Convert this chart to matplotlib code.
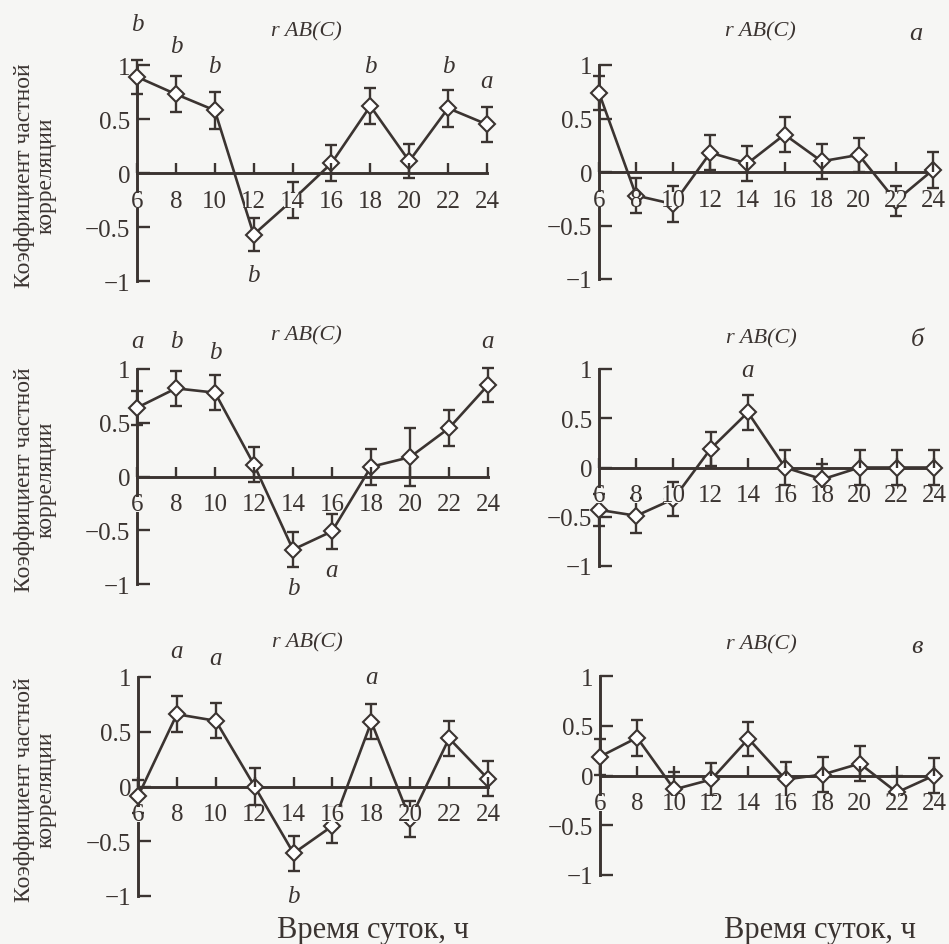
import numpy as np
import matplotlib
matplotlib.use('Agg')
import matplotlib.pyplot as plt

plt.rcParams['font.family'] = ['Liberation Serif', 'DejaVu Serif']

# Время суток, ч
hours = [6, 8, 10, 12, 14, 16, 18, 20, 22, 24]

# Коэффициенты частной корреляции r AB(C) и ошибки
r1 = [0.89, 0.73, 0.58, -0.57, -0.25, 0.09, 0.62, 0.11, 0.60, 0.45]
e1 = [0.16, 0.165, 0.17, 0.15, 0.165, 0.165, 0.17, 0.16, 0.17, 0.165]

r2 = [0.74, -0.22, -0.30, 0.18, 0.08, 0.35, 0.10, 0.16, -0.27, 0.02]
e2 = [0.16, 0.16, 0.17, 0.165, 0.165, 0.165, 0.165, 0.16, 0.14, 0.165]

r3 = [0.64, 0.82, 0.78, 0.11, -0.68, -0.51, 0.09, 0.18, 0.45, 0.85]
e3 = [0.16, 0.16, 0.16, 0.16, 0.165, 0.16, 0.165, 0.27, 0.165, 0.16]

r4 = [-0.43, -0.49, -0.32, 0.19, 0.56, 0.0, -0.12, 0.0, 0.0, 0.0]
e4 = [0.16, 0.18, 0.17, 0.175, 0.175, 0.18, 0.16, 0.18, 0.18, 0.18]

r5 = [-0.09, 0.66, 0.60, 0.0, -0.61, -0.36, 0.59, -0.30, 0.44, 0.07]
e5 = [0.15, 0.165, 0.16, 0.165, 0.16, 0.16, 0.16, 0.165, 0.16, 0.16]

r6 = [0.19, 0.38, -0.14, -0.04, 0.37, -0.04, 0.01, 0.12, -0.17, 0.0]
e6 = [0.18, 0.18, 0.18, 0.17, 0.17, 0.175, 0.175, 0.175, 0.17, 0.18]

# буквенные обозначения групп (час, буква)
sig1 = [(6, 'b'), (8, 'b'), (10, 'b'), (12, 'b'), (18, 'b'), (22, 'b'), (24, 'a')]
sig2 = []
sig3 = [(6, 'a'), (8, 'b'), (10, 'b'), (14, 'b'), (16, 'a'), (24, 'a')]
sig4 = [(14, 'a')]
sig5 = [(8, 'a'), (10, 'a'), (18, 'a'), (14, 'b')]
sig6 = []
# высота букв на графике
sig1_y = [1.38, 1.18, 0.99, -0.94, 0.99, 0.99, 0.85]
sig2_y = []
sig3_y = [1.26, 1.26, 1.16, -1.04, -0.87, 1.26]
sig4_y = [0.99]
sig5_y = [1.24, 1.17, 1.0, -1.0]
sig6_y = []

panel_letters = ['', 'а', '', 'б', '', 'в']

yticks = [-1, -0.5, 0, 0.5, 1]
ytick_labels = ['\u22121', '\u22120.5', '0', '0.5', '1']

ink = '#3b3431'
bg = '#f6f6f4'

W, H = 949, 945
fig = plt.figure(figsize=(W / 100, H / 100), dpi=100, facecolor=bg)

# положение осей в пикселях: x(6), x(24), y(1), y(-1)
boxes = [(137, 487, 66, 282), (599, 933, 66, 280),
         (137, 488, 370, 585), (599, 934, 370, 567),
         (138, 488, 678, 897), (600, 934, 677, 876)]

series = [(r1, e1, sig1, sig1_y), (r2, e2, sig2, sig2_y),
          (r3, e3, sig3, sig3_y), (r4, e4, sig4, sig4_y),
          (r5, e5, sig5, sig5_y), (r6, e6, sig6, sig6_y)]

for i, ((x0, x1, y1, ym1), (r, e, sig, sig_y)) in enumerate(zip(boxes, series)):
    ax = fig.add_axes([x0 / W, 1 - ym1 / H, (x1 - x0) / W, (ym1 - y1) / H])
    ax.set_facecolor('none')
    ax.set_axisbelow(False)
    ax.set_xlim(6, 24)
    ax.set_ylim(-1, 1)

    ax.errorbar(hours, r, yerr=e, fmt='none', ecolor=ink, elinewidth=1.7,
                capsize=4.5, capthick=1.7, zorder=2, clip_on=False)
    ax.plot(hours, r, color=ink, lw=1.9, marker='D', ms=8.5, mfc='white',
            mec=ink, mew=1.5, zorder=2.2, clip_on=False)

    for sp in ['top', 'right']:
        ax.spines[sp].set_visible(False)
    ax.spines['bottom'].set_position(('data', 0))
    ax.spines['bottom'].set_bounds(6, 24)
    ax.spines['left'].set_bounds(-1, 1)
    for sp in ['bottom', 'left']:
        ax.spines[sp].set_color(ink)
        ax.spines[sp].set_linewidth(2.1)
        ax.spines[sp].set_zorder(1)

    ax.set_xticks(hours)
    ax.set_xticklabels([str(h) for h in hours])
    ax.set_yticks(yticks)
    ax.set_yticklabels(ytick_labels)
    ax.tick_params(axis='x', direction='in', length=7, width=1.7, color=ink,
                   pad=12, labelsize=18, labelcolor=ink)
    ax.tick_params(axis='y', direction='in', length=9, width=1.7, color=ink,
                   pad=5, labelsize=18, labelcolor=ink)
    # подписи по оси x закрывают линию, как на оригинале
    for lab in ax.get_xticklabels():
        lab.set_bbox(dict(facecolor=bg, edgecolor='none', pad=-2.5))

    ax.text(14.7, 1.32, 'r AB(C)', style='italic', fontsize=16, color=ink,
            ha='center', va='center', clip_on=False)
    for (h, s), yy in zip(sig, sig_y):
        ax.text(h, yy, s, style='italic', fontsize=18, color=ink,
                ha='center', va='center', clip_on=False)
    if panel_letters[i]:
        ax.text(23.1, 1.30, panel_letters[i], style='italic', fontsize=19,
                color=ink, ha='center', va='center', clip_on=False)

    if i % 2 == 0:
        yc = (y1 + ym1) / 2 + 2
        fig.text(35 / W, 1 - yc / H, 'Коэффициент частной\nкорреляции',
                 rotation=90, ha='center', va='center', fontsize=17,
                 color=ink, linespacing=1.05)

fig.text(373 / W, 1 - 931 / H, 'Время суток, ч', ha='center', va='center',
         fontsize=22, color=ink)
fig.text(820 / W, 1 - 931 / H, 'Время суток, ч', ha='center', va='center',
         fontsize=22, color=ink)

fig.savefig('out.png', dpi=100, facecolor=bg)
